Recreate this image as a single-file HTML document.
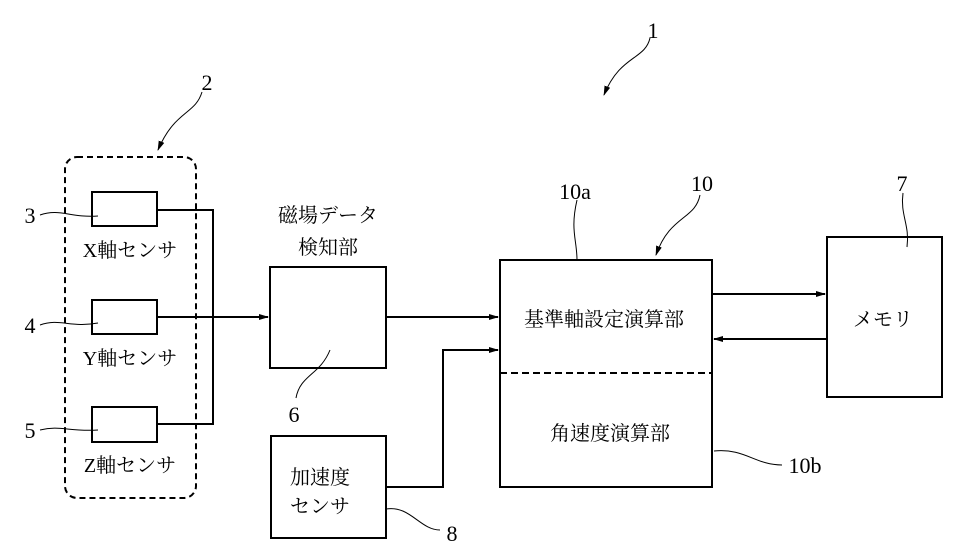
<!DOCTYPE html>
<html><head><meta charset="utf-8"><style>
body{margin:0;background:#fff}
svg{display:block}
text{font-family:"Liberation Serif","Noto Serif CJK JP","Noto Serif CJK SC",serif;fill:#000}
.j{font-family:"Liberation Serif","Noto Serif CJK SC",serif;font-size:20px}
.n{font-size:22px}
</style></head><body>
<svg width="962" height="553" viewBox="0 0 962 553" xmlns="http://www.w3.org/2000/svg">
<defs><marker id="a" markerWidth="10" markerHeight="8" refX="9" refY="4" orient="auto" markerUnits="userSpaceOnUse"><path d="M0,1 L10,4 L0,7 z" fill="#000"/></marker></defs>
<g fill="none" stroke="#000">
<rect x="65" y="157" width="131" height="341" rx="12" stroke-width="2" stroke-dasharray="6,4"/>
<rect x="92" y="192" width="65" height="34" stroke-width="2"/>
<rect x="92" y="300" width="65" height="34" stroke-width="2"/>
<rect x="92" y="407" width="65" height="35" stroke-width="2"/>
<path d="M157,210 H213 V424 H157" stroke-width="2"/>
<path d="M157,317 H268" stroke-width="2" marker-end="url(#a)"/>
<rect x="270" y="267" width="116" height="101" stroke-width="2"/>
<rect x="271" y="436" width="115" height="102" stroke-width="2"/>
<path d="M386,317 H498" stroke-width="2" marker-end="url(#a)"/>
<path d="M386,487 H443 V350 H498" stroke-width="2" marker-end="url(#a)"/>
<rect x="500" y="260" width="212" height="227" stroke-width="2"/>
<path d="M500,373 H712" stroke-width="2" stroke-dasharray="7,4"/>
<rect x="827" y="237" width="115" height="160" stroke-width="2"/>
<path d="M712,294 H825" stroke-width="2" marker-end="url(#a)"/>
<path d="M827,339 H714" stroke-width="2" marker-end="url(#a)"/>
<g stroke-width="1">
<path d="M40,215 C60,208 70,218 98,216"/>
<path d="M40,325 C60,318 70,328 98,323"/>
<path d="M40,430 C60,425 70,432 98,430"/>
<path d="M330,350 C320,375 300,375 296,398"/>
<path d="M386,509 C410,505 420,530 440,530"/>
<path d="M714,451 C745,448 755,465 782,465"/>
<path d="M577,260 C577,240 570,230 577,200"/>
<path d="M907,247 C910,225 900,215 903,193"/>
<path d="M202,92 C195,115 175,110 158,150" marker-end="url(#a)"/>
<path d="M650,38 C645,60 620,55 604,95" marker-end="url(#a)"/>
<path d="M700,195 C695,220 670,215 656,255" marker-end="url(#a)"/>
</g>
</g>
<text class="j" x="130" y="257" text-anchor="middle">X軸センサ</text>
<text class="j" x="130" y="365" text-anchor="middle">Y軸センサ</text>
<text class="j" x="130" y="472" text-anchor="middle">Z軸センサ</text>
<text class="j" x="328" y="222" text-anchor="middle">磁場データ</text>
<text class="j" x="328" y="254" text-anchor="middle">検知部</text>
<text class="j" x="320" y="484" text-anchor="middle">加速度</text>
<text class="j" x="320" y="513" text-anchor="middle">センサ</text>
<text class="j" x="604" y="326" text-anchor="middle" font-size="22">基準軸設定演算部</text>
<text class="j" x="610" y="440" text-anchor="middle" font-size="22">角速度演算部</text>
<text class="j" x="883" y="326" text-anchor="middle">メモリ</text>
<text class="n" x="207" y="90" text-anchor="middle">2</text>
<text class="n" x="653" y="38" text-anchor="middle">1</text>
<text class="n" x="30" y="223" text-anchor="middle">3</text>
<text class="n" x="30" y="333" text-anchor="middle">4</text>
<text class="n" x="30" y="438" text-anchor="middle">5</text>
<text class="n" x="294" y="422" text-anchor="middle">6</text>
<text class="n" x="452" y="541" text-anchor="middle">8</text>
<text class="n" x="575" y="199" text-anchor="middle">10a</text>
<text class="n" x="702" y="191" text-anchor="middle">10</text>
<text class="n" x="902" y="191" text-anchor="middle">7</text>
<text class="n" x="805" y="473" text-anchor="middle">10b</text>
</svg>
</body></html>
